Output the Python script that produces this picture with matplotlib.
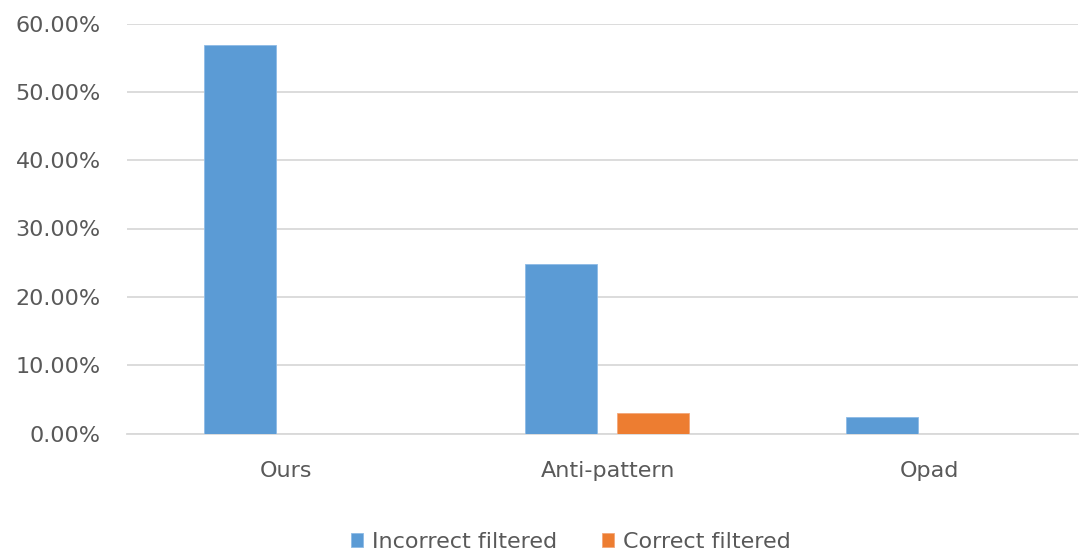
import matplotlib.pyplot as plt
import numpy as np
from matplotlib.ticker import FuncFormatter

categories = ["Ours", "Anti-pattern", "Opad"]
incorrect_filtered = [56.9, 24.8, 2.45]
correct_filtered = [0.0, 2.95, 0.0]
y_ticks = [0, 10, 20, 30, 40, 50, 60]

blue = "#5B9BD5"
orange = "#ED7D31"
grey_text = "#595959"

plt.rcParams["font.family"] = ["DejaVu Sans"]

fig = plt.figure(figsize=(10.79, 5.53), dpi=100)
ax = fig.add_axes([127 / 1079, (553 - 433.5) / 553, 951 / 1079, 410 / 553])

x = np.arange(len(categories))
w = 0.224
ax.bar(x - 0.145, incorrect_filtered, w, color=blue, edgecolor="#8DBBE6",
       linewidth=0.6, label="Incorrect filtered", zorder=3)
ax.bar(x + 0.14, correct_filtered, w, color=orange, edgecolor="#F3A77A",
       linewidth=0.6, label="Correct filtered", zorder=3)

ax.set_xlim(-0.4965, 2.464)
ax.set_ylim(0, 60)
ax.set_yticks(y_ticks)
ax.yaxis.set_major_formatter(FuncFormatter(lambda v, p: f"{v:.2f}%"))
ax.set_xticks(x)
ax.set_xticklabels(categories)

ax.grid(axis="y", color="#D9D9D9", linewidth=1.3, zorder=0)
for s in ["top", "right", "left"]:
    ax.spines[s].set_visible(False)
ax.spines["bottom"].set_color("#D9D9D9")
ax.spines["bottom"].set_linewidth(1.3)
ax.tick_params(axis="both", length=0, labelsize=16, colors=grey_text)
ax.tick_params(axis="y", pad=19)
ax.tick_params(axis="x", pad=20)

fig.legend(loc="center", bbox_to_anchor=(571 / 1079, 1 - 542 / 553),
           ncol=2, frameon=False, fontsize=16, labelcolor=grey_text,
           handlelength=0.55, handleheight=0.55, handletextpad=0.4,
           columnspacing=2.0)

fig.savefig("out.png", dpi=100)
